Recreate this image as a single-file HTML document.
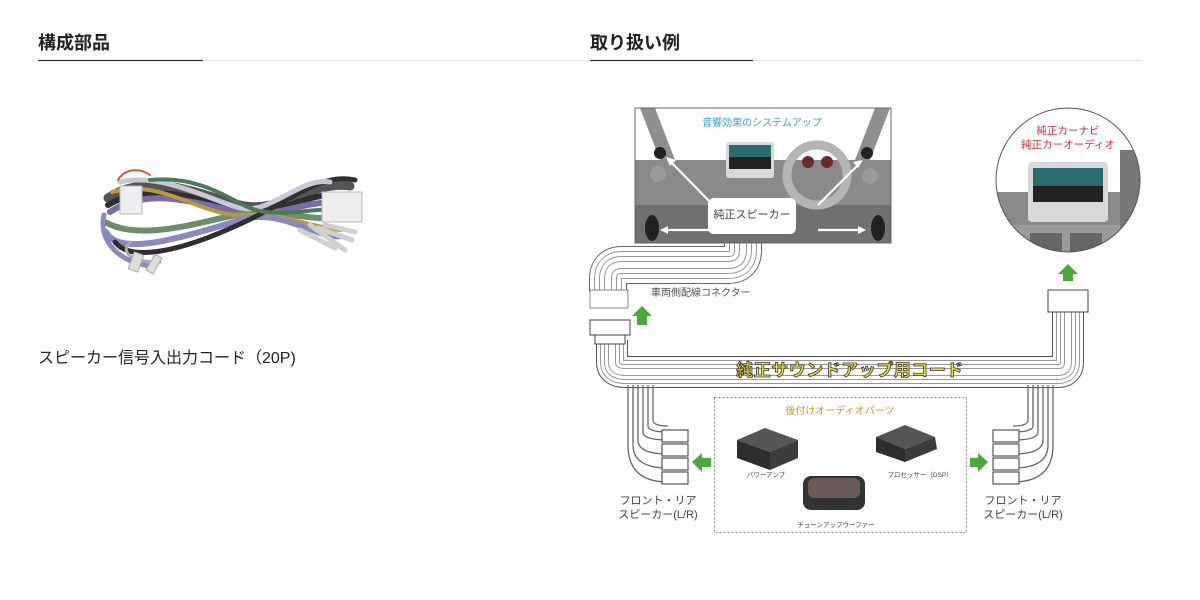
<!DOCTYPE html>
<html><head><meta charset="utf-8"><style>
html,body{margin:0;padding:0;background:#fff;}
body{width:1200px;height:600px;overflow:hidden;position:relative;font-family:"Liberation Sans","Noto Sans CJK JP",sans-serif;}
</style></head><body>
<svg width="1200" height="600" viewBox="0 0 1200 600" xmlns="http://www.w3.org/2000/svg" style="position:absolute;left:0;top:0">
<defs>
<clipPath id="cc"><circle cx="1068" cy="180" r="72"/></clipPath>
<clipPath id="dc"><rect x="635" y="108" width="256" height="135"/></clipPath>
</defs>
<g font-family="Liberation Sans, Noto Sans CJK JP, sans-serif">
<line x1="38" y1="60.5" x2="1140" y2="60.5" stroke="#e2e2e2" stroke-width="1"/>
<line x1="38" y1="60.5" x2="203" y2="60.5" stroke="#333" stroke-width="1.2"/>
<line x1="590" y1="60.5" x2="753" y2="60.5" stroke="#333" stroke-width="1.2"/>
<text x="38" y="49" font-size="18" font-weight="bold" fill="#222">構成部品</text>
<text x="590" y="49" font-size="18" font-weight="bold" fill="#222">取り扱い例</text>
<text x="38" y="363" font-size="16" fill="#222">スピーカー信号入出力コード（20P)</text>

<!-- harness -->
<g fill="none" stroke-linecap="round">
<path d="M108 198 C150 170 200 195 240 205 C280 215 310 180 350 186" stroke="#555" stroke-width="9"/>
<path d="M108 205 C150 180 200 200 240 210 C280 220 300 190 350 195" stroke="#2f2f2f" stroke-width="6"/>
<path d="M110 212 C150 185 200 205 240 212 C280 220 300 198 350 203" stroke="#7a6aa8" stroke-width="6"/>
<path d="M105 222 C140 242 200 222 240 214 C280 206 310 225 345 215" stroke="#6b8f6b" stroke-width="6"/>
<path d="M112 192 C160 178 200 215 240 215 C285 212 300 225 340 230" stroke="#b99a3a" stroke-width="4"/>
<path d="M106 232 C118 255 170 242 240 220 C280 207 320 240 340 236" stroke="#8a89c0" stroke-width="6"/>
<path d="M115 242 C130 262 180 252 240 224 C290 202 320 172 355 180" stroke="#2f2f2f" stroke-width="5"/>
<path d="M120 182 C160 172 210 200 240 208 C270 215 300 177 330 182" stroke="#c8c8d8" stroke-width="5"/>
<path d="M104 215 C98 242 120 262 150 266" stroke="#8a89c0" stroke-width="5"/>
<path d="M130 242 C120 252 130 262 160 262" stroke="#aaa" stroke-width="3"/>
<path d="M118 180 C125 168 140 168 150 175" stroke="#d05a2a" stroke-width="2"/>
<path d="M150 180 C200 175 230 200 250 208 C280 220 320 205 350 210" stroke="#4a7a5a" stroke-width="4"/>
<path d="M300 230 L335 248 M310 225 L345 250 M318 228 L352 240 M325 225 L355 232" stroke="#d0d0d0" stroke-width="5"/>
</g>
<rect x="120" y="186" width="22" height="28" fill="#eee" stroke="#bbb"/>
<rect x="322" y="192" width="40" height="30" fill="#eee" stroke="#bbb"/>
<rect x="131" y="253" width="10" height="18" fill="#ddd" stroke="#aaa" transform="rotate(20 136 262)"/>
<rect x="150" y="255" width="8" height="18" fill="#ddd" stroke="#aaa" transform="rotate(30 154 264)"/>

<!-- upper cable -->
<g fill="none">
<path d="M743 243 V250 Q743 265 728 265 H622 Q608 265 608 279 V292" stroke="#666" stroke-width="38"/>
<path d="M743 243 V250 Q743 265 728 265 H622 Q608 265 608 279 V292" stroke="#fff" stroke-width="36"/>
<path d="M743 243 V250 Q743 265 728 265 H622 Q608 265 608 279 V292" stroke="#999" stroke-width="28"/>
<path d="M743 243 V250 Q743 265 728 265 H622 Q608 265 608 279 V292" stroke="#fff" stroke-width="26"/>
<path d="M743 243 V250 Q743 265 728 265 H622 Q608 265 608 279 V292" stroke="#999" stroke-width="18"/>
<path d="M743 243 V250 Q743 265 728 265 H622 Q608 265 608 279 V292" stroke="#fff" stroke-width="16"/>
<path d="M743 243 V250 Q743 265 728 265 H622 Q608 265 608 279 V292" stroke="#999" stroke-width="8"/>
<path d="M743 243 V250 Q743 265 728 265 H622 Q608 265 608 279 V292" stroke="#fff" stroke-width="6"/>
</g>
<rect x="590" y="290" width="38" height="18" fill="#fff" stroke="#888"/>
<text x="651" y="296" font-size="10" fill="#555">車両側配線コネクター</text>

<!-- main cable -->
<g fill="none" stroke-linejoin="round">
<path d="M612 340 V362 Q612 372 625 372 H1058 Q1068 372 1068 362 V312" stroke="#555" stroke-width="32"/>
<path d="M612 340 V362 Q612 372 625 372 H1058 Q1068 372 1068 362 V312" stroke="#fff" stroke-width="30"/>
<path d="M612 340 V362 Q612 372 625 372 H1058 Q1068 372 1068 362 V312" stroke="#999" stroke-width="24"/>
<path d="M612 340 V362 Q612 372 625 372 H1058 Q1068 372 1068 362 V312" stroke="#fff" stroke-width="22"/>
<path d="M612 340 V362 Q612 372 625 372 H1058 Q1068 372 1068 362 V312" stroke="#999" stroke-width="16"/>
<path d="M612 340 V362 Q612 372 625 372 H1058 Q1068 372 1068 362 V312" stroke="#fff" stroke-width="14"/>
<path d="M612 340 V362 Q612 372 625 372 H1058 Q1068 372 1068 362 V312" stroke="#999" stroke-width="8"/>
<path d="M612 340 V362 Q612 372 625 372 H1058 Q1068 372 1068 362 V312" stroke="#fff" stroke-width="6"/>
</g>
<rect x="590" y="320" width="40" height="15" fill="#fff" stroke="#444"/>
<rect x="595" y="335" width="30" height="9" fill="#fff" stroke="#444"/>
<rect x="1048" y="290" width="40" height="22" fill="#fff" stroke="#444"/>

<g fill="none" stroke-width="1.3" stroke="#666">
<path d="M628 385 V445 Q628 482 668 482"/>
<path d="M633 385 V445 Q633 468 668 468"/>
<path d="M638 385 V440 Q638 454 668 454"/>
<path d="M643 385 V432 Q643 440 668 440"/>
<path d="M648 385 V426 Q648 432 668 432"/>
<path d="M653 385 V420 Q653 426 668 426"/>
<path d="M1053 385 V445 Q1053 482 1013 482"/>
<path d="M1048 385 V445 Q1048 468 1013 468"/>
<path d="M1043 385 V440 Q1043 454 1013 454"/>
<path d="M1038 385 V432 Q1038 440 1013 440"/>
<path d="M1033 385 V426 Q1033 432 1013 432"/>
<path d="M1028 385 V420 Q1028 426 1013 426"/>
</g>
<g fill="#fff" stroke="#555" stroke-width="1.2">
<rect x="662" y="430" width="26" height="12"/><rect x="662" y="444" width="26" height="12"/><rect x="662" y="458" width="26" height="12"/><rect x="662" y="472" width="26" height="12"/>
<rect x="993" y="430" width="26" height="12"/><rect x="993" y="444" width="26" height="12"/><rect x="993" y="458" width="26" height="12"/><rect x="993" y="472" width="26" height="12"/>
</g>
<text x="658" y="504" font-size="11" fill="#444" text-anchor="middle">フロント・リア</text>
<text x="658" y="518" font-size="11" fill="#444" text-anchor="middle">スピーカー(L/R)</text>
<text x="1023" y="504" font-size="11" fill="#444" text-anchor="middle">フロント・リア</text>
<text x="1023" y="518" font-size="11" fill="#444" text-anchor="middle">スピーカー(L/R)</text>

<text x="850" y="376" font-size="17" font-weight="bold" fill="#f2e33a" stroke="#333" stroke-width="0.8" text-anchor="middle" letter-spacing="0.5">純正サウンドアップ用コード</text>

<g fill="#4ba83a">
<polygon points="642,306 652,316 647,316 647,325 637,325 637,316 632,316"/>
<polygon points="1068,264 1078,274 1073,274 1073,281 1063,281 1063,274 1058,274"/>
<polygon points="692,462 702,453 702,458 711,458 711,467 702,467 702,472"/>
<polygon points="988,462 978,453 978,458 970,458 970,467 978,467 978,472"/>
</g>

<rect x="714.5" y="397.5" width="252" height="135" fill="none" stroke="#888" stroke-width="1" stroke-dasharray="2,2"/>
<text x="840" y="414" font-size="10" fill="#c79a2a" text-anchor="middle">後付けオーディオパーツ</text>
<polygon points="737,440 765,428 798,440 770,452" fill="#555"/>
<polygon points="737,440 770,452 770,470 737,458" fill="#2d2d2d"/>
<polygon points="770,452 798,440 798,458 770,470" fill="#3c3c3c"/>
<text x="766" y="477" font-size="6.5" fill="#444" text-anchor="middle">パワーアンプ</text>
<polygon points="876,437 905,425 935,437 905,449" fill="#555"/>
<polygon points="876,437 905,449 905,462 876,452" fill="#2d2d2d"/>
<polygon points="905,449 935,437 937,449 905,462" fill="#3c3c3c"/>
<text x="920" y="477" font-size="6.5" fill="#444" text-anchor="middle">プロセッサー（DSP）</text>
<rect x="803" y="476" width="62" height="34" rx="8" fill="#333"/>
<rect x="808" y="478" width="52" height="20" rx="6" fill="#6a5a5a"/>
<text x="836" y="527" font-size="6.5" fill="#444" text-anchor="middle">チューンアップウーファー</text>

<g clip-path="url(#dc)">
<rect x="635" y="108" width="256" height="135" fill="#fff"/>
<rect x="635" y="160" width="256" height="83" fill="#8a8a8a"/>
<rect x="635" y="205" width="256" height="38" fill="#707070"/>
<polygon points="640,108 655,108 675,160 660,160" fill="#8f8f8f"/>
<polygon points="875,108 890,108 870,160 855,160" fill="#8f8f8f"/>
<circle cx="817" cy="175" r="30" fill="none" stroke="#b5b5b5" stroke-width="9"/>
<circle cx="808" cy="162" r="6" fill="#6a2a2a"/><circle cx="827" cy="162" r="6" fill="#6a2a2a"/>
<rect x="726" y="142" width="48" height="36" rx="3" fill="#d9d9d9"/>
<rect x="729" y="145" width="42" height="12" fill="#2c6b70"/>
<rect x="729" y="157" width="42" height="12" fill="#222"/>
<circle cx="660" cy="153" r="6" fill="#222"/><circle cx="867" cy="153" r="6" fill="#222"/>
<ellipse cx="652" cy="228" rx="7" ry="13" fill="#222"/><ellipse cx="878" cy="228" rx="7" ry="13" fill="#222"/>
<circle cx="658" cy="174" r="8" fill="#9a9a9a"/><circle cx="870" cy="176" r="8" fill="#9a9a9a"/>
</g>
<rect x="635" y="108" width="256" height="135" fill="none" stroke="#666" stroke-width="1"/>
<g stroke="#fff" stroke-width="2.2" fill="none">
<line x1="712" y1="204" x2="669" y2="160"/><line x1="818" y1="205" x2="860" y2="163"/>
<line x1="712" y1="230" x2="664" y2="230"/><line x1="818" y1="230" x2="862" y2="230"/>
</g>
<g fill="#fff"><polygon points="666,157 676,160 670,166"/><polygon points="863,160 853,162 858,168"/><polygon points="660,230 668,226 668,234"/><polygon points="866,230 858,226 858,234"/></g>
<rect x="708" y="198" width="88" height="36" rx="6" fill="#fff"/>
<text x="752" y="218" font-size="11" fill="#444" text-anchor="middle">純正スピーカー</text>
<text x="762" y="126" font-size="10" fill="#3a9fd0" text-anchor="middle">音響効果のシステムアップ</text>

<g clip-path="url(#cc)">
<rect x="990" y="100" width="160" height="160" fill="#fff"/>
<rect x="990" y="192" width="160" height="70" fill="#8a8a8a"/>
<rect x="990" y="225" width="160" height="30" fill="#9a9a9a"/>
<rect x="1028" y="162" width="80" height="60" rx="4" fill="#d8d8d8"/>
<rect x="1033" y="168" width="70" height="18" fill="#2c6b70"/>
<rect x="1033" y="186" width="70" height="16" fill="#222"/>
<rect x="1030" y="233" width="32" height="20" fill="#666"/><rect x="1070" y="233" width="32" height="20" fill="#666"/>
<rect x="1120" y="150" width="30" height="100" fill="#777"/>
</g>
<circle cx="1068" cy="180" r="72" fill="none" stroke="#555" stroke-width="1"/>
<text x="1068" y="134" font-size="10.5" fill="#d03030" text-anchor="middle">純正カーナビ</text>
<text x="1068" y="148" font-size="10.5" fill="#d03030" text-anchor="middle">純正カーオーディオ</text>
</g>
</svg>
</body></html>
